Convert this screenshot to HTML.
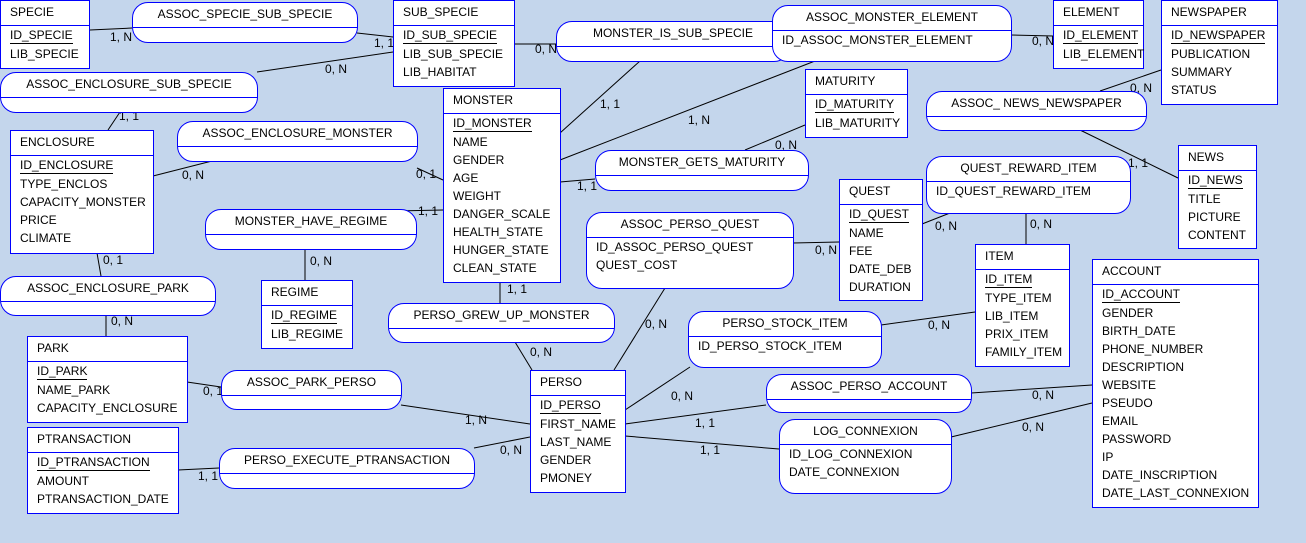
<!DOCTYPE html>
<html><head><meta charset="utf-8"><style>
body{margin:0;width:1306px;height:543px;background:#c4d6ec;position:relative;overflow:hidden;font-family:"Liberation Sans",sans-serif;font-size:12px;color:#000}
.e,.a{position:absolute;background:#fff;border:1px solid #0000ff;box-sizing:border-box}
.a{border-radius:16px}
.h{height:24px;line-height:22px;border-bottom:1px solid #0000ff;padding-left:9px;white-space:nowrap}
.a .h{text-align:center;padding-left:0}
.r{line-height:18px;padding-left:9px;white-space:nowrap}
.u{display:inline-block;border-bottom:1px solid #000;line-height:16px;margin-bottom:1px}
.l{position:absolute;white-space:nowrap}
svg{position:absolute;left:0;top:0}
</style></head><body>
<svg width="1306" height="543" stroke="#000" stroke-width="1">
<line x1="90" y1="30" x2="132" y2="28"/>
<line x1="357" y1="33" x2="393" y2="37"/>
<line x1="393" y1="52" x2="257" y2="72"/>
<line x1="120" y1="112" x2="108" y2="130"/>
<line x1="153" y1="176" x2="212" y2="161"/>
<line x1="417" y1="168" x2="443" y2="180"/>
<line x1="560" y1="133" x2="640" y2="61"/>
<line x1="556" y1="44" x2="514" y2="44"/>
<line x1="560" y1="160" x2="815" y2="61"/>
<line x1="1011" y1="35" x2="1053" y2="36"/>
<line x1="560" y1="182" x2="595" y2="179"/>
<line x1="745" y1="150" x2="805" y2="125"/>
<line x1="443" y1="210" x2="395" y2="211"/>
<line x1="305" y1="249" x2="305" y2="280"/>
<line x1="97" y1="253" x2="101" y2="276"/>
<line x1="106" y1="315" x2="106" y2="336"/>
<line x1="500" y1="282" x2="500" y2="303"/>
<line x1="515" y1="342" x2="532" y2="370"/>
<line x1="187" y1="382" x2="221" y2="387"/>
<line x1="401" y1="405" x2="530" y2="424"/>
<line x1="178" y1="470" x2="219" y2="468"/>
<line x1="474" y1="448" x2="530" y2="437"/>
<line x1="614" y1="370" x2="665" y2="288"/>
<line x1="793" y1="243" x2="839" y2="242"/>
<line x1="922" y1="224" x2="950" y2="213"/>
<line x1="1026" y1="213" x2="1026" y2="244"/>
<line x1="625" y1="410" x2="690" y2="367"/>
<line x1="881" y1="325" x2="975" y2="312"/>
<line x1="625" y1="424" x2="766" y2="405"/>
<line x1="971" y1="393" x2="1092" y2="385"/>
<line x1="625" y1="436" x2="779" y2="449"/>
<line x1="951" y1="437" x2="1092" y2="403"/>
<line x1="1100" y1="91" x2="1161" y2="70"/>
<line x1="1080" y1="130" x2="1178" y2="178"/>
</svg>

<!-- labels -->
<div class="l" style="left:110px;top:30px">1, N</div>
<div class="l" style="left:374px;top:36px">1, 1</div>
<div class="l" style="left:325px;top:62px">0, N</div>
<div class="l" style="left:119px;top:109px">1, 1</div>
<div class="l" style="left:182px;top:168px">0, N</div>
<div class="l" style="left:416px;top:167px">0, 1</div>
<div class="l" style="left:600px;top:97px">1, 1</div>
<div class="l" style="left:535px;top:42px">0, N</div>
<div class="l" style="left:688px;top:113px">1, N</div>
<div class="l" style="left:1032px;top:34px">0, N</div>
<div class="l" style="left:577px;top:179px">1, 1</div>
<div class="l" style="left:775px;top:138px">0, N</div>
<div class="l" style="left:418px;top:204px">1, 1</div>
<div class="l" style="left:310px;top:254px">0, N</div>
<div class="l" style="left:103px;top:253px">0, 1</div>
<div class="l" style="left:111px;top:314px">0, N</div>
<div class="l" style="left:507px;top:282px">1, 1</div>
<div class="l" style="left:530px;top:345px">0, N</div>
<div class="l" style="left:203px;top:384px">0, 1</div>
<div class="l" style="left:465px;top:413px">1, N</div>
<div class="l" style="left:198px;top:469px">1, 1</div>
<div class="l" style="left:500px;top:443px">0, N</div>
<div class="l" style="left:645px;top:317px">0, N</div>
<div class="l" style="left:815px;top:243px">0, N</div>
<div class="l" style="left:935px;top:219px">0, N</div>
<div class="l" style="left:1030px;top:217px">0, N</div>
<div class="l" style="left:671px;top:389px">0, N</div>
<div class="l" style="left:928px;top:318px">0, N</div>
<div class="l" style="left:695px;top:416px">1, 1</div>
<div class="l" style="left:1032px;top:388px">0, N</div>
<div class="l" style="left:700px;top:443px">1, 1</div>
<div class="l" style="left:1022px;top:420px">0, N</div>
<div class="l" style="left:1130px;top:81px">0, N</div>
<div class="l" style="left:1128px;top:156px">1, 1</div>

<!-- entities -->
<div class="e" style="left:0;top:0;width:90px;height:69px"><div class="h">SPECIE</div><div class="r"><span class="u">ID_SPECIE</span></div><div class="r">LIB_SPECIE</div></div>
<div class="e" style="left:393px;top:0;width:122px;height:87px"><div class="h">SUB_SPECIE</div><div class="r"><span class="u">ID_SUB_SPECIE</span></div><div class="r">LIB_SUB_SPECIE</div><div class="r">LIB_HABITAT</div></div>
<div class="e" style="left:1053px;top:0;width:91px;height:69px"><div class="h">ELEMENT</div><div class="r"><span class="u">ID_ELEMENT</span></div><div class="r">LIB_ELEMENT</div></div>
<div class="e" style="left:1161px;top:0;width:117px;height:105px"><div class="h">NEWSPAPER</div><div class="r"><span class="u">ID_NEWSPAPER</span></div><div class="r">PUBLICATION</div><div class="r">SUMMARY</div><div class="r">STATUS</div></div>
<div class="e" style="left:805px;top:69px;width:103px;height:69px"><div class="h">MATURITY</div><div class="r"><span class="u">ID_MATURITY</span></div><div class="r">LIB_MATURITY</div></div>
<div class="e" style="left:443px;top:88px;width:118px;height:195px"><div class="h">MONSTER</div><div class="r"><span class="u">ID_MONSTER</span></div><div class="r">NAME</div><div class="r">GENDER</div><div class="r">AGE</div><div class="r">WEIGHT</div><div class="r">DANGER_SCALE</div><div class="r">HEALTH_STATE</div><div class="r">HUNGER_STATE</div><div class="r">CLEAN_STATE</div></div>
<div class="e" style="left:10px;top:130px;width:144px;height:124px"><div class="h">ENCLOSURE</div><div class="r"><span class="u">ID_ENCLOSURE</span></div><div class="r">TYPE_ENCLOS</div><div class="r">CAPACITY_MONSTER</div><div class="r">PRICE</div><div class="r">CLIMATE</div></div>
<div class="e" style="left:839px;top:179px;width:84px;height:122px"><div class="h">QUEST</div><div class="r"><span class="u">ID_QUEST</span></div><div class="r">NAME</div><div class="r">FEE</div><div class="r">DATE_DEB</div><div class="r">DURATION</div></div>
<div class="e" style="left:1178px;top:145px;width:79px;height:104px"><div class="h">NEWS</div><div class="r"><span class="u">ID_NEWS</span></div><div class="r">TITLE</div><div class="r">PICTURE</div><div class="r">CONTENT</div></div>
<div class="e" style="left:261px;top:280px;width:92px;height:69px"><div class="h">REGIME</div><div class="r"><span class="u">ID_REGIME</span></div><div class="r">LIB_REGIME</div></div>
<div class="e" style="left:975px;top:244px;width:95px;height:123px"><div class="h">ITEM</div><div class="r"><span class="u">ID_ITEM</span></div><div class="r">TYPE_ITEM</div><div class="r">LIB_ITEM</div><div class="r">PRIX_ITEM</div><div class="r">FAMILY_ITEM</div></div>
<div class="e" style="left:1092px;top:259px;width:167px;height:249px"><div class="h">ACCOUNT</div><div class="r"><span class="u">ID_ACCOUNT</span></div><div class="r">GENDER</div><div class="r">BIRTH_DATE</div><div class="r">PHONE_NUMBER</div><div class="r">DESCRIPTION</div><div class="r">WEBSITE</div><div class="r">PSEUDO</div><div class="r">EMAIL</div><div class="r">PASSWORD</div><div class="r">IP</div><div class="r">DATE_INSCRIPTION</div><div class="r">DATE_LAST_CONNEXION</div></div>
<div class="e" style="left:27px;top:336px;width:161px;height:87px"><div class="h">PARK</div><div class="r"><span class="u">ID_PARK</span></div><div class="r">NAME_PARK</div><div class="r">CAPACITY_ENCLOSURE</div></div>
<div class="e" style="left:27px;top:427px;width:152px;height:87px"><div class="h">PTRANSACTION</div><div class="r"><span class="u">ID_PTRANSACTION</span></div><div class="r">AMOUNT</div><div class="r">PTRANSACTION_DATE</div></div>
<div class="e" style="left:530px;top:370px;width:96px;height:123px"><div class="h">PERSO</div><div class="r"><span class="u">ID_PERSO</span></div><div class="r">FIRST_NAME</div><div class="r">LAST_NAME</div><div class="r">GENDER</div><div class="r">PMONEY</div></div>

<!-- associations -->
<div class="a" style="left:132px;top:2px;width:226px;height:41px"><div class="h">ASSOC_SPECIE_SUB_SPECIE</div></div>
<div class="a" style="left:0;top:72px;width:258px;height:41px"><div class="h">ASSOC_ENCLOSURE_SUB_SPECIE</div></div>
<div class="a" style="left:177px;top:121px;width:241px;height:41px"><div class="h">ASSOC_ENCLOSURE_MONSTER</div></div>
<div class="a" style="left:556px;top:21px;width:234px;height:41px"><div class="h">MONSTER_IS_SUB_SPECIE</div></div>
<div class="a" style="left:772px;top:5px;width:240px;height:57px"><div class="h">ASSOC_MONSTER_ELEMENT</div><div class="r">ID_ASSOC_MONSTER_ELEMENT</div></div>
<div class="a" style="left:926px;top:91px;width:221px;height:40px"><div class="h">ASSOC_ NEWS_NEWSPAPER</div></div>
<div class="a" style="left:595px;top:150px;width:214px;height:41px"><div class="h">MONSTER_GETS_MATURITY</div></div>
<div class="a" style="left:926px;top:156px;width:205px;height:58px"><div class="h">QUEST_REWARD_ITEM</div><div class="r">ID_QUEST_REWARD_ITEM</div></div>
<div class="a" style="left:205px;top:209px;width:212px;height:41px"><div class="h">MONSTER_HAVE_REGIME</div></div>
<div class="a" style="left:586px;top:212px;width:208px;height:77px"><div class="h">ASSOC_PERSO_QUEST</div><div class="r">ID_ASSOC_PERSO_QUEST</div><div class="r">QUEST_COST</div></div>
<div class="a" style="left:0;top:276px;width:216px;height:40px"><div class="h">ASSOC_ENCLOSURE_PARK</div></div>
<div class="a" style="left:388px;top:303px;width:227px;height:40px"><div class="h">PERSO_GREW_UP_MONSTER</div></div>
<div class="a" style="left:688px;top:311px;width:194px;height:57px"><div class="h">PERSO_STOCK_ITEM</div><div class="r">ID_PERSO_STOCK_ITEM</div></div>
<div class="a" style="left:221px;top:370px;width:181px;height:40px"><div class="h">ASSOC_PARK_PERSO</div></div>
<div class="a" style="left:766px;top:374px;width:206px;height:39px"><div class="h">ASSOC_PERSO_ACCOUNT</div></div>
<div class="a" style="left:779px;top:419px;width:173px;height:75px"><div class="h">LOG_CONNEXION</div><div class="r">ID_LOG_CONNEXION</div><div class="r">DATE_CONNEXION</div></div>
<div class="a" style="left:219px;top:448px;width:256px;height:41px"><div class="h">PERSO_EXECUTE_PTRANSACTION</div></div>
</body></html>
